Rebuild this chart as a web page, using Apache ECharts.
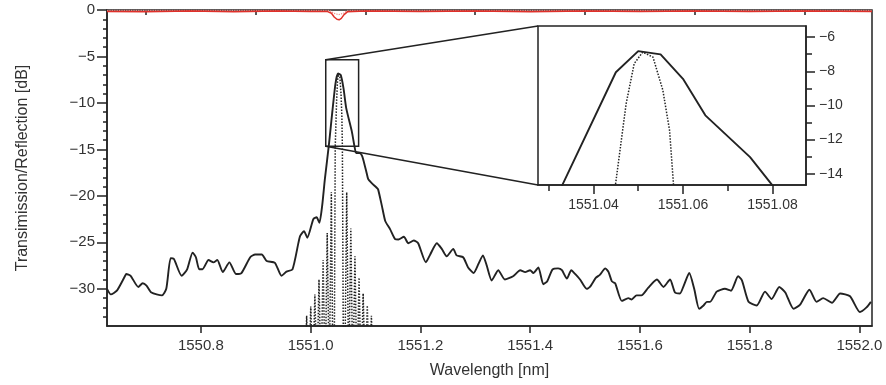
<!DOCTYPE html>
<html><head><meta charset="utf-8">
<script src="https://cdn.jsdelivr.net/npm/echarts@6/dist/echarts.min.js"></script>
<style>html,body{margin:0;padding:0;background:#fff}#c{width:886px;height:385px}</style>
</head><body><div id="c"></div>
<script>
// Measured reflection (solid black)
const measWl = [1550.629,1550.636,1550.647,1550.662,1550.664,1550.672,1550.686,1550.694,1550.701,1550.710,1550.729,1550.737,1550.745,1550.751,1550.765,1550.775,1550.785,1550.791,1550.797,1550.803,1550.814,1550.823,1550.830,1550.840,1550.852,1550.864,1550.874,1550.890,1550.899,1550.911,1550.920,1550.935,1550.947,1550.956,1550.967,1550.978,1550.981,1550.988,1550.994,1551.005,1551.011,1551.016,1551.021,1551.026,1551.033,1551.045,1551.050,1551.055,1551.060,1551.065,1551.075,1551.080,1551.083,1551.089,1551.093,1551.096,1551.102,1551.105,1551.111,1551.120,1551.123,1551.130,1551.136,1551.145,1551.154,1551.160,1551.170,1551.178,1551.188,1551.196,1551.210,1551.218,1551.230,1551.239,1551.248,1551.260,1551.266,1551.278,1551.287,1551.297,1551.306,1551.314,1551.321,1551.330,1551.342,1551.354,1551.369,1551.382,1551.391,1551.400,1551.406,1551.415,1551.424,1551.431,1551.441,1551.451,1551.458,1551.467,1551.475,1551.482,1551.491,1551.503,1551.509,1551.520,1551.527,1551.537,1551.543,1551.549,1551.555,1551.567,1551.579,1551.585,1551.594,1551.603,1551.615,1551.631,1551.643,1551.655,1551.664,1551.673,1551.680,1551.690,1551.699,1551.708,1551.716,1551.722,1551.728,1551.740,1551.755,1551.766,1551.779,1551.786,1551.798,1551.813,1551.828,1551.840,1551.854,1551.865,1551.880,1551.892,1551.909,1551.922,1551.934,1551.950,1551.965,1551.983,1552.001,1552.013,1552.021];
const measDb = [-30.0,-30.6,-30.2,-28.6,-28.4,-28.6,-29.8,-29.4,-29.65,-30.4,-30.7,-30.0,-26.7,-26.8,-28.6,-27.9,-26.1,-26.6,-27.9,-27.9,-26.9,-27.15,-26.9,-28.2,-27.15,-28.4,-28.3,-26.6,-26.3,-26.3,-27.0,-27.2,-28.6,-28.15,-27.9,-25.0,-24.3,-23.8,-24.5,-22.5,-22.3,-22.9,-21.1,-18.2,-14.68,-8.06,-6.82,-7.01,-8.44,-10.58,-13.03,-14.68,-15.4,-15.4,-15.6,-16.1,-17.5,-18.2,-18.6,-19.1,-19.3,-21.1,-22.7,-23.6,-24.65,-24.7,-24.4,-25.1,-24.8,-25.1,-27.15,-26.3,-25.1,-25.7,-26.5,-25.7,-26.4,-26.6,-27.7,-28.3,-27.3,-26.4,-27.5,-29.1,-28.0,-29.0,-28.65,-28.0,-28.2,-28.0,-28.3,-27.7,-29.5,-29.2,-27.9,-27.8,-28.0,-28.9,-28.0,-28.4,-29.0,-30.0,-29.8,-28.8,-28.5,-27.8,-28.2,-29.2,-29.4,-31.3,-31.0,-31.15,-30.7,-30.7,-29.9,-29.0,-29.8,-29.0,-30.4,-30.5,-29.65,-28.3,-30.0,-32.15,-31.8,-31.4,-31.4,-30.3,-30.0,-30.2,-28.65,-29.1,-31.4,-31.8,-30.3,-31.1,-29.8,-30.4,-32.15,-31.7,-30.1,-31.4,-31.0,-31.5,-30.5,-30.8,-32.5,-32.0,-31.4];
// Simulated reflection (dotted black)
const simWl = [1550.989,1550.9928,1550.9965,1551.0003,1551.004,1551.0078,1551.0115,1551.0153,1551.019,1551.0228,1551.0265,1551.0303,1551.034,1551.0378,1551.0415,1551.0435,1551.0449,1551.0473,1551.0491,1551.0510,1551.0533,1551.0555,1551.0570,1551.0579,1551.0594,1551.0612,1551.0658,1551.0695,1551.0733,1551.0770,1551.0808,1551.0845,1551.0883,1551.0920,1551.0958,1551.0995,1551.1033,1551.1070,1551.1108,1551.1145];
const simDb = [-40,-32.9,-40,-31.9,-40,-30.6,-40,-29.0,-40,-26.9,-40,-24.0,-40,-19.6,-45,-33,-14.68,-9.9,-7.55,-6.88,-7.17,-9.1,-11.45,-14.68,-33,-45,-19.6,-40,-23.5,-40,-26.5,-40,-28.8,-40,-30.5,-40,-31.8,-40,-32.9,-40];
// Measured transmission (solid red)
const transWl = [1550.629,1550.70,1550.78,1550.86,1550.94,1551.00,1551.03,1551.038,1551.043,1551.048,1551.052,1551.056,1551.061,1551.067,1551.10,1551.2,1551.3,1551.4,1551.5,1551.6,1551.7,1551.8,1551.9,1552.023];
const transDb = [-0.15,-0.2,-0.1,-0.18,-0.12,-0.15,-0.15,-0.35,-0.75,-1.0,-1.05,-0.9,-0.5,-0.2,-0.12,-0.15,-0.1,-0.18,-0.12,-0.15,-0.1,-0.15,-0.12,-0.15];
// Simulated transmission (dotted red)
const simTWl = [1550.629,1551.035,1551.042,1551.051,1551.060,1551.067,1552.023];
const simTDb = [-0.03,-0.05,-0.35,-0.5,-0.35,-0.05,-0.03];
// Axes
const xMajor = [1550.8,1551.0,1551.2,1551.4,1551.6,1551.8,1552.0];
const xMinor = [1550.7,1550.9,1551.1,1551.3,1551.5,1551.7,1551.9];
const yMajor = [0,-5,-10,-15,-20,-25,-30];
const yMinor = [-1,-2,-3,-4,-6,-7,-8,-9,-11,-12,-13,-14,-16,-17,-18,-19,-21,-22,-23,-24,-26,-27,-28,-29,-31,-32,-33];
const insetXMajor = [1551.04,1551.06,1551.08];
const insetXMinor = [1551.03,1551.05,1551.07];
const insetYMajor = [-6,-8,-10,-12,-14];
const insetYMinor = [-7,-9,-11,-13];
const mainX = [1550.629,1552.023], mainY = [-34,0];
const insetX = [1551.0276,1551.0875], insetY = [-14.66,-5.35];

const zip = (a,b) => a.map((v,i)=>[v,b[i]]);
const neg = v => v < 0 ? '\u2212' + (-v) : String(v);
const ink = '#222', txt = '#333', FONT = 'Liberation Sans';

function axis(o){
  return Object.assign({
    type:'value', splitLine:{show:false},
    axisLine:{show:true, onZero:false, lineStyle:{color:ink,width:1.5}},
    axisTick:{show:true, inside:false, lineStyle:{color:ink,width:1.5}},
    axisLabel:{show:false}
  }, o);
}

const chart = echarts.init(document.getElementById('c'), null, {renderer:'canvas'});
const option = {
  animation:false,
  backgroundColor:'#fff',
  textStyle:{fontFamily:FONT},
  grid:[
    {left:107, top:10, width:765, height:316, show:true, borderColor:ink, borderWidth:1.5, backgroundColor:'transparent'},
    {left:538, top:26, width:268, height:159, show:true, borderColor:ink, borderWidth:1.5, backgroundColor:'#fff', z:10}
  ],
  xAxis:[
    axis({gridIndex:0, min:mainX[0], max:mainX[1], position:'bottom',
      axisTick:{show:true, customValues:xMajor, length:7, lineStyle:{color:ink,width:1.5}},
      axisLabel:{show:true, customValues:xMajor, formatter:v=>(+v).toFixed(1), fontSize:15, margin:12, color:txt, fontFamily:FONT},
      name:'Wavelength [nm]', nameLocation:'middle', nameGap:37, nameTextStyle:{fontSize:16, color:txt, fontFamily:FONT}}),
    axis({gridIndex:0, min:mainX[0], max:mainX[1], position:'bottom', axisLine:{show:false},
      axisTick:{show:true, customValues:xMinor, length:5, lineStyle:{color:ink,width:1.5}}}),
    axis({gridIndex:1, min:insetX[0], max:insetX[1], position:'bottom', z:12,
      axisTick:{show:true, customValues:insetXMajor, length:9, lineStyle:{color:ink,width:1.5}},
      axisLabel:{show:true, customValues:insetXMajor, formatter:v=>(+v).toFixed(2), fontSize:14, margin:13, color:txt, fontFamily:FONT}}),
    axis({gridIndex:1, min:insetX[0], max:insetX[1], position:'bottom', z:12, axisLine:{show:false},
      axisTick:{show:true, customValues:insetXMinor, length:6, lineStyle:{color:ink,width:1.5}}})
  ],
  yAxis:[
    axis({gridIndex:0, min:mainY[0], max:mainY[1], position:'left',
      axisTick:{show:true, customValues:yMajor, length:10, lineStyle:{color:ink,width:1.5}},
      axisLabel:{show:true, customValues:yMajor, formatter:v=>neg(+v), fontSize:15, margin:12, color:txt, fontFamily:FONT},
      name:'Transimission/Reflection [dB]', nameLocation:'middle', nameGap:76, nameTextStyle:{fontSize:16, color:txt, fontFamily:FONT}}),
    axis({gridIndex:0, min:mainY[0], max:mainY[1], position:'left', axisLine:{show:false},
      axisTick:{show:true, customValues:yMinor, length:4, lineStyle:{color:ink,width:1.5}}}),
    axis({gridIndex:1, min:insetY[0], max:insetY[1], position:'right', z:12,
      axisTick:{show:true, customValues:insetYMajor, length:9, lineStyle:{color:ink,width:1.5}},
      axisLabel:{show:true, customValues:insetYMajor, formatter:v=>neg(+v), fontSize:14, margin:13, color:txt, fontFamily:FONT}}),
    axis({gridIndex:1, min:insetY[0], max:insetY[1], position:'right', z:12, axisLine:{show:false},
      axisTick:{show:true, customValues:insetYMinor, length:6, lineStyle:{color:ink,width:1.5}}})
  ],
  series:[
    {type:'line', xAxisIndex:0, yAxisIndex:0, data:zip(simWl,simDb), showSymbol:false, clip:true, z:2,
      lineStyle:{color:ink, width:1.5, type:'dotted'}},
    {type:'line', xAxisIndex:0, yAxisIndex:0, data:zip(measWl,measDb), showSymbol:false, clip:true, z:3, smooth:0.2,
      lineStyle:{color:ink, width:1.9}},
    {type:'line', xAxisIndex:0, yAxisIndex:0, data:zip(simTWl,simTDb), showSymbol:false, clip:true, z:3,
      lineStyle:{color:'#ee8a85', width:1.2, type:'dotted'}},
    {type:'line', xAxisIndex:0, yAxisIndex:0, data:zip(transWl,transDb), showSymbol:false, clip:true, z:4,
      lineStyle:{color:'#e0302a', width:1.5}},
    {type:'line', xAxisIndex:2, yAxisIndex:2, data:zip(simWl,simDb), showSymbol:false, clip:true, z:11,
      lineStyle:{color:ink, width:1.5, type:'dotted'}},
    {type:'line', xAxisIndex:2, yAxisIndex:2, data:zip(measWl,measDb), showSymbol:false, clip:true, z:11,
      lineStyle:{color:ink, width:1.9}}
  ]
};
chart.setOption(option);

// Zoom box and connector lines, placed through the axes' own scales
const pTL = chart.convertToPixel({xAxisIndex:0, yAxisIndex:0}, [insetX[0], insetY[1]]);
const pBR = chart.convertToPixel({xAxisIndex:0, yAxisIndex:0}, [insetX[1], insetY[0]]);
const qTL = chart.convertToPixel({xAxisIndex:2, yAxisIndex:2}, [insetX[0], insetY[1]]);
const qBL = chart.convertToPixel({xAxisIndex:2, yAxisIndex:2}, [insetX[0], insetY[0]]);
const st = {stroke:ink, lineWidth:1.5, fill:null};
chart.setOption({graphic:[
  {type:'rect', z:5, shape:{x:pTL[0], y:pTL[1], width:pBR[0]-pTL[0], height:pBR[1]-pTL[1]}, style:Object.assign({},st)},
  {type:'line', z:5, shape:{x1:pTL[0], y1:pTL[1], x2:qTL[0], y2:qTL[1]}, style:Object.assign({},st)},
  {type:'line', z:5, shape:{x1:pTL[0], y1:pBR[1], x2:qBL[0], y2:qBL[1]}, style:Object.assign({},st)}
]});
</script>
</body></html>
